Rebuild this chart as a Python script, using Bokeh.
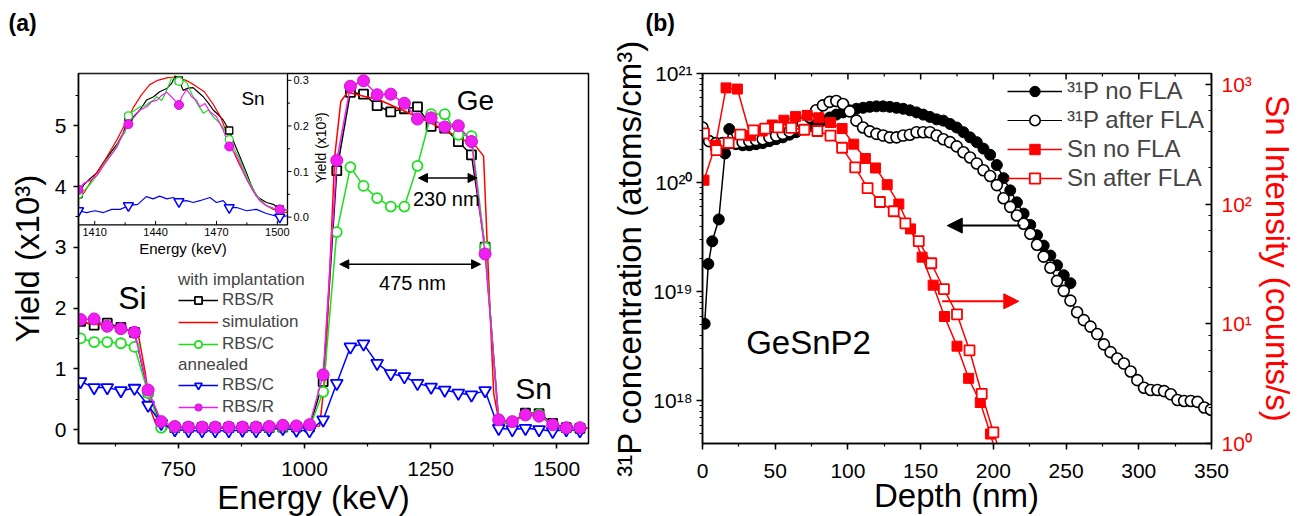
import math
from bokeh.plotting import figure
from bokeh.layouts import row
from bokeh.models import (Range1d, LogAxis, LogScale, SingleIntervalTicker, Label,
                          Legend, LegendItem, Arrow, NormalHead, CustomJSTickFormatter)
from bokeh.core.properties import value
from bokeh.embed import file_html
from bokeh.resources import INLINE

FONT = "Liberation Sans"

# ---------------- (a) RBS spectra (yield in units of 10^3) ----------------
energy = [556, 583, 609, 636, 663, 690, 716, 743, 770, 797, 823, 850, 877, 904, 930, 957,
          984, 1010, 1037, 1064, 1091, 1117, 1144, 1171, 1198, 1224, 1251, 1278, 1305, 1331,
          1358, 1385, 1412, 1438, 1465, 1492, 1519, 1546]
rbs_r_impl = [1.78, 1.72, 1.75, 1.68, 1.60, 0.62, 0.07, 0.03, 0.03, 0.03, 0.03, 0.03, 0.03, 0.03,
              0.03, 0.04, 0.04, 0.04, 0.79, 4.26, 5.55, 5.52, 5.33, 5.23, 5.28, 5.31, 4.99, 4.96,
              4.74, 4.52, 3.00, 0.12, 0.10, 0.27, 0.26, 0.10, 0.03, 0.02]
rbs_c_impl = [1.50, 1.44, 1.44, 1.42, 1.36, 0.60, 0.03, 0.02, 0.02, 0.02, 0.02, 0.02, 0.02, 0.02,
              0.02, 0.03, 0.03, 0.03, 0.62, 3.25, 4.32, 4.01, 3.81, 3.67, 3.67, 4.34, 5.19, 5.19,
              4.85, 4.83, 3.00, 0.12, 0.10, 0.25, 0.25, 0.08, 0.02, 0.02]
rbs_c_ann = [0.79, 0.69, 0.69, 0.64, 0.68, 0.40, 0.10, 0.00, -0.02, -0.02, -0.02, -0.02, -0.01,
             -0.02, 0.00, 0.02, -0.01, -0.02, 0.16, 0.76, 1.36, 1.41, 1.09, 0.92, 0.87, 0.76,
             0.70, 0.65, 0.60, 0.57, 0.64, 0.02, 0.00, 0.02, 0.00, -0.03, 0.00, -0.02]
rbs_r_ann = [1.81, 1.82, 1.70, 1.66, 1.60, 0.65, 0.13, 0.05, 0.04, 0.04, 0.04, 0.04, 0.04, 0.04,
             0.05, 0.07, 0.06, 0.08, 0.90, 4.43, 5.65, 5.74, 5.51, 5.52, 5.37, 5.11, 5.13, 4.98,
             5.00, 4.74, 2.89, 0.16, 0.13, 0.24, 0.22, 0.08, 0.03, 0.03]
sim_energy = [552, 600, 640, 660, 672, 684, 695, 705, 720, 800, 900, 1000, 1030, 1040, 1050, 1060,
              1072, 1085, 1150, 1250, 1340, 1355, 1365, 1375, 1385, 1400, 1420, 1445, 1465, 1485,
              1500, 1563]
sim_yield = [1.76, 1.72, 1.66, 1.62, 1.50, 0.95, 0.32, 0.10, 0.04, 0.03, 0.03, 0.04, 0.06, 0.80,
             2.60, 4.50, 5.40, 5.55, 5.42, 5.05, 4.66, 4.50, 2.50, 0.60, 0.15, 0.12, 0.18, 0.27,
             0.26, 0.10, 0.03, 0.02]

# inset: Sn signal, 1402-1505 keV
in_sim_e = [1402, 1405, 1409, 1413, 1417, 1421, 1425, 1429, 1433, 1437, 1441, 1446, 1450, 1455,
            1459, 1464, 1468, 1472, 1475, 1478, 1481, 1485, 1488, 1491, 1494, 1498, 1501, 1505]
in_sim_y = [0.040, 0.055, 0.085, 0.110, 0.140, 0.170, 0.205, 0.240, 0.268, 0.290, 0.300, 0.306,
            0.307, 0.300, 0.290, 0.275, 0.250, 0.220, 0.185, 0.148, 0.118, 0.083, 0.058, 0.039,
            0.027, 0.017, 0.013, 0.010]
in_r_impl_e = [1402, 1404.5, 1407.8, 1411, 1414.3, 1417.6, 1421, 1424, 1426.6, 1429, 1432.3,
               1435.6, 1439, 1442, 1445.5, 1448, 1449.6, 1451.5, 1453.6, 1456, 1458.5, 1461,
               1463.5, 1466, 1468.4, 1471, 1473.3, 1476.3, 1478, 1481.5, 1484.8, 1487.3, 1489.7,
               1492, 1494.6, 1498, 1501.2, 1505]
in_r_impl_y = [0.050, 0.070, 0.085, 0.097, 0.120, 0.140, 0.160, 0.184, 0.219, 0.220, 0.235,
               0.257, 0.264, 0.275, 0.282, 0.294, 0.310, 0.300, 0.278, 0.283, 0.284, 0.274,
               0.264, 0.250, 0.235, 0.224, 0.213, 0.190, 0.170, 0.133, 0.097, 0.068, 0.046,
               0.039, 0.032, 0.028, 0.017, 0.015]
in_c_impl_e = [1402, 1405.3, 1408.6, 1412, 1416, 1419.2, 1422.5, 1425, 1427.4, 1430, 1432.3,
               1434.8, 1436.4, 1439, 1440.6, 1443, 1445.5, 1448, 1451.5, 1453.6, 1455.3, 1457.8,
               1460.2, 1463.5, 1466, 1468.4, 1471.7, 1475, 1478.2, 1481.5, 1484.8, 1488, 1491.3,
               1494.6, 1499.5, 1505]
in_c_impl_y = [0.050, 0.060, 0.077, 0.097, 0.126, 0.143, 0.170, 0.187, 0.228, 0.235, 0.242,
               0.244, 0.250, 0.256, 0.264, 0.256, 0.278, 0.307, 0.298, 0.300, 0.296, 0.270,
               0.251, 0.228, 0.235, 0.220, 0.206, 0.184, 0.155, 0.126, 0.090, 0.061, 0.039,
               0.025, 0.016, 0.015]
in_c_ann_e = [1402, 1406, 1410, 1414.3, 1418.4, 1422.5, 1426.6, 1431.2, 1435.4, 1438.8, 1442,
              1445.5, 1448.8, 1451.5, 1455.3, 1458.5, 1461.8, 1466.8, 1470, 1473.3, 1476.3,
              1480, 1484.8, 1489.7, 1494.6, 1501.2, 1505]
in_c_ann_y = [0.014, 0.010, 0.014, 0.010, 0.017, 0.017, 0.025, 0.028, 0.045, 0.040, 0.046,
              0.040, 0.043, 0.034, 0.036, 0.032, 0.036, 0.043, 0.032, 0.036, 0.021, 0.021,
              0.014, 0.017, 0.008, 0.000, 0.003]
in_r_ann_e = [1402, 1404.5, 1407.8, 1411, 1414.3, 1417.6, 1421, 1424, 1426.6, 1429, 1432.3,
              1435.6, 1438, 1440.6, 1443, 1445.5, 1448, 1451.5, 1452.8, 1455.3, 1457.8, 1460.2,
              1461.8, 1464.3, 1466.8, 1470, 1473.3, 1476.3, 1479, 1481.5, 1484.8, 1488, 1491.3,
              1494.6, 1498, 1501.2, 1505]
in_r_ann_y = [0.060, 0.074, 0.081, 0.091, 0.113, 0.133, 0.154, 0.184, 0.204, 0.217, 0.235,
              0.242, 0.253, 0.256, 0.267, 0.274, 0.263, 0.246, 0.263, 0.280, 0.264, 0.256,
              0.242, 0.249, 0.231, 0.220, 0.191, 0.155, 0.141, 0.119, 0.083, 0.058, 0.036,
              0.025, 0.020, 0.017, 0.016]
in_mark_e = [1402, 1426.6, 1451.5, 1476.3, 1501.2]
in_mark_r_impl = [0.050, 0.219, 0.300, 0.190, 0.017]
in_mark_c_impl = [0.050, 0.222, 0.298, 0.170, 0.016]
in_mark_c_ann = [0.014, 0.025, 0.034, 0.021, 0.000]
in_mark_r_ann = [0.060, 0.204, 0.246, 0.155, 0.017]
in_xticks = [1410, 1440, 1470, 1500]
in_yticks = [0.0, 0.1, 0.2, 0.3]

# annotations of panel (a)
elem_text = ["Si", "Ge", "Sn"]
elem_e = [659, 1339, 1454]
elem_y = [2.16, 5.41, 0.68]
elem_size = ["32px", "28px", "30px"]
width_text = ["230 nm", "475 nm"]
width_e0 = [1226, 1070]
width_e1 = [1342, 1349]
width_y = [4.14, 2.72]
width_text_e = [1281, 1214]
width_text_y = [3.80, 2.41]

# ---------------- (b) SIMS depth profiles ----------------
p_no_depth = [1.5, 4, 6.7, 11.2, 15.5, 18.4, 23, 27.6, 32.2, 36.8, 41.4, 46, 50.6, 55.2, 59.8,
              64.4, 69, 73.6, 78.2, 82.8, 87.4, 92, 96.6, 101.2, 105.8, 110.4, 115, 119.6, 124.2,
              128.8, 133.4, 138, 142.6, 147.2, 151.8, 156.4, 161, 165.6, 170.2, 174.8, 179.4,
              184, 188.6, 193.2, 197.8, 202.4, 207, 211.6, 216.2, 220.8, 225.4, 230, 234.6,
              239.2, 243.8, 248.4, 253]
p_no_conc = [5.1e18, 1.8e19, 2.9e19, 4.6e19, 1.85e20, 3.1e20, 2.25e20, 2.2e20, 2.2e20, 2.25e20,
             2.3e20, 2.4e20, 2.5e20, 2.6e20, 2.75e20, 2.9e20, 3.1e20, 3.3e20, 3.5e20, 3.7e20,
             3.95e20, 4.2e20, 4.4e20, 4.6e20, 4.75e20, 4.85e20, 4.95e20, 5.0e20, 5.0e20, 4.95e20,
             4.85e20, 4.75e20, 4.6e20, 4.4e20, 4.2e20, 4.0e20, 3.8e20, 3.7e20, 3.45e20, 3.2e20,
             2.9e20, 2.6e20, 2.35e20, 2.05e20, 1.8e20, 1.45e20, 1.1e20, 8.5e19, 6.6e19, 5.2e19,
             4.1e19, 3.3e19, 2.65e19, 2.15e19, 1.75e19, 1.42e19, 1.2e19]
p_fla_depth = [0, 4.6, 9.2, 13.8, 18.4, 23, 27.6, 32.2, 36.8, 41.4, 46, 50.6, 55.2, 59.8, 64.4,
               69, 73.6, 78.2, 82.8, 87.4, 92, 96.6, 101.2, 105.8, 110.4, 115, 119.6, 124.2,
               128.8, 133.4, 138, 142.6, 147.2, 151.8, 156.4, 161, 165.6, 170.2, 174.8, 179.4,
               184, 188.6, 193.2, 197.8, 202.4, 207, 211.6, 216.2, 220.8, 225.4, 230, 234.6,
               239.2, 243.8, 248.4, 253, 257.6, 262.2, 266.8, 271.4, 276, 280.6, 285.2, 289.8,
               294.4, 299, 303.6, 308.2, 312.8, 317.4, 322, 326.6, 331.2, 335.8, 340.4, 345, 349.6]
p_fla_conc = [3.2e20, 2.4e20, 2.3e20, 2.3e20, 2.3e20, 2.3e20, 2.35e20, 2.4e20, 2.45e20, 2.5e20,
              2.6e20, 2.7e20, 2.8e20, 2.95e20, 3.2e20, 3.5e20, 4.0e20, 4.6e20, 5.1e20, 5.5e20,
              5.6e20, 5.25e20, 4.5e20, 3.7e20, 3.2e20, 2.95e20, 2.8e20, 2.7e20, 2.6e20, 2.6e20,
              2.7e20, 2.75e20, 2.9e20, 2.9e20, 2.9e20, 2.7e20, 2.5e20, 2.35e20, 2.15e20, 1.9e20,
              1.7e20, 1.5e20, 1.3e20, 1.15e20, 9.5e19, 7.2e19, 6.0e19, 5.0e19, 4.2e19, 3.4e19,
              2.7e19, 2.1e19, 1.66e19, 1.26e19, 1.02e19, 8.3e18, 6.5e18, 5.5e18, 4.8e18, 4.1e18,
              3.3e18, 2.8e18, 2.45e18, 2.2e18, 1.86e18, 1.55e18, 1.32e18, 1.26e18, 1.26e18,
              1.23e18, 1.15e18, 1.02e18, 1.0e18, 1.0e18, 9.8e17, 8.7e17, 8.3e17]
sn_no_depth = [1, 8.9, 16.2, 24, 33, 41, 48, 56, 64, 72, 80, 88, 96, 104, 112, 119, 127, 135,
               143, 151, 158.6, 166.4, 175, 183, 191, 198, 205]
sn_no_int = [158, 309, 933, 912, 372, 407, 457, 501, 537, 550, 525, 479, 427, 316, 240, 200, 145,
             100, 62, 36, 21, 11.5, 6.5, 3.5, 2.2, 1.2, 0.6]
sn_fla_depth = [1, 9.5, 18, 26, 35, 43, 52, 61, 70, 79, 88, 96, 105, 113.5, 122, 131.5, 139.5,
                148.7, 157.3, 166, 175, 183.6, 192, 200, 206]
sn_fla_int = [389, 282, 324, 380, 412, 427, 437, 432, 417, 407, 372, 295, 202, 136, 104, 87, 69,
              49, 32, 19.5, 12, 6.0, 2.6, 1.24, 0.75]
depth_ticks = [0, 50, 100, 150, 200, 250, 300, 350]


def style_axis(ax, t_in=0, t_out=5, m_in=0, m_out=3):
    ax.axis_line_width = 1.5
    ax.major_tick_line_width = 1.5
    ax.minor_tick_line_width = 1.2
    ax.major_tick_in = t_in
    ax.major_tick_out = t_out
    ax.minor_tick_in = m_in
    ax.minor_tick_out = m_out
    ax.major_label_text_font = FONT
    ax.major_label_text_font_size = "21px"
    ax.major_label_text_color = "black"
    ax.axis_label_text_font = FONT
    ax.axis_label_text_font_size = "33px"
    ax.axis_label_text_font_style = "normal"
    ax.axis_label_text_color = "black"


def canvas_label(p, x, y, text, size, style="normal", align="left", color="black"):
    # placed in the top border panel so that it is not clipped to the frame
    p.add_layout(Label(x=x, y=y, x_units="canvas", y_units="canvas", text=text,
                       text_font=FONT, text_font_size=size, text_font_style=style,
                       text_align=align, text_baseline="middle", text_color=color),
                 "above")


# ====================== panel (a) ======================
A_W, A_H = 600, 516
A_L, A_R, A_T, A_B = 78, 12, 73, 69
pa = figure(width=A_W, height=A_H, x_range=Range1d(552, 1563), y_range=Range1d(-0.23, 5.86),
            output_backend="svg", toolbar_location=None,
            min_border_left=A_L, min_border_right=A_R, min_border_top=A_T, min_border_bottom=A_B)
pa.xgrid.visible = False
pa.ygrid.visible = False
pa.outline_line_color = "black"
pa.outline_line_width = 1.5
pa.xaxis.ticker = SingleIntervalTicker(interval=250, num_minor_ticks=2)
pa.yaxis.ticker = SingleIntervalTicker(interval=1, num_minor_ticks=2)
pa.yaxis.axis_label = "Yield (x10\u00b3)"
style_axis(pa.xaxis[0])
style_axis(pa.yaxis[0])
pa.xaxis.major_label_standoff = 13
pa.yaxis.major_label_standoff = 7
pa.yaxis.axis_label_standoff = 6
canvas_label(pa, 8, 22, "(a)", "23px", style="bold")
canvas_label(pa, 313, 497, "Energy (keV)", "33px", align="center")

BLACK, RED, GREEN, BLUE, MAG = "black", "#ff0000", "#19e019", "#0000ff", "#f01ef0"

l_ri = pa.line(energy, rbs_r_impl, line_color=BLACK, line_width=1.5)
s_ri = pa.scatter(energy, rbs_r_impl, marker="square", size=9, fill_color="white",
                  line_color=BLACK, line_width=1.8)
l_sim = pa.line(sim_energy, sim_yield, line_color=RED, line_width=1.5)
l_ci = pa.line(energy, rbs_c_impl, line_color=GREEN, line_width=1.5)
s_ci = pa.scatter(energy, rbs_c_impl, marker="circle", size=10, fill_color="white",
                  line_color=GREEN, line_width=1.8)
l_ca = pa.line(energy, rbs_c_ann, line_color=BLUE, line_width=1.5)
s_ca = pa.scatter(energy, rbs_c_ann, marker="inverted_triangle", size=12, fill_color="white",
                  line_color=BLUE, line_width=1.8)
l_ra = pa.line(energy, rbs_r_ann, line_color=MAG, line_width=1.5)
s_ra = pa.scatter(energy, rbs_r_ann, marker="circle", size=12, fill_color=MAG,
                  line_color="#d010d0", line_width=1)

for t, e, yv, sz in zip(elem_text, elem_e, elem_y, elem_size):
    pa.text(x=[e], y=[yv], text=[t], text_font=value(FONT), text_font_size=value(sz),
            text_align="center", text_baseline="middle", text_color="black")
pa.text(x=width_text_e, y=width_text_y, text=width_text, text_font=value(FONT),
        text_font_size=value("20px"), text_align="center", text_baseline="middle",
        text_color="black")
for e0, e1, yy in zip(width_e0, width_e1, width_y):
    pa.add_layout(Arrow(start=NormalHead(size=9, fill_color="black", line_color="black"),
                        end=NormalHead(size=9, fill_color="black", line_color="black"),
                        x_start=e0, y_start=yy, x_end=e1, y_end=yy, line_width=1.5,
                        line_color="black"))

leg_kw = dict(padding=0, margin=0, border_line_alpha=0, background_fill_alpha=0,
              label_text_font=FONT, label_text_font_size="17px", label_height=18,
              glyph_height=18, glyph_width=40, label_standoff=4, spacing=2,
              title_text_font=FONT, title_text_font_size="17px",
              title_text_font_style="normal", title_standoff=0)
leg_a1 = Legend(items=[LegendItem(label="RBS/R", renderers=[l_ri, s_ri]),
                       LegendItem(label="simulation", renderers=[l_sim]),
                       LegendItem(label="RBS/C", renderers=[l_ci, s_ci])],
                title="with implantation", location=(100, 89), **leg_kw)
leg_a2 = Legend(items=[LegendItem(label="RBS/C", renderers=[l_ca, s_ca]),
                       LegendItem(label="RBS/R", renderers=[l_ra, s_ra])],
                title="annealed", location=(100, 26), **leg_kw)
pa.add_layout(leg_a1, "center")
pa.add_layout(leg_a2, "center")

# ---- inset drawn in its own coordinate system within the upper-left corner ----
IN_X0, IN_X1 = 1402, 1505
IN_Y0, IN_Y1 = -0.017, 0.315
IN_WPX, IN_HPX = 209, 153
FRAME_W = A_W - A_L - A_R
FRAME_H = A_H - A_T - A_B
pa.extra_x_ranges = {"inx": Range1d(IN_X0, IN_X0 + (IN_X1 - IN_X0) * FRAME_W / IN_WPX)}
pa.extra_y_ranges = {"iny": Range1d(IN_Y1 - (IN_Y1 - IN_Y0) * FRAME_H / IN_HPX, IN_Y1)}
ix_per_px = (IN_X1 - IN_X0) / IN_WPX
iy_per_px = (IN_Y1 - IN_Y0) / IN_HPX
ik = dict(x_range_name="inx", y_range_name="iny")

pa.quad(left=[IN_X0], right=[IN_X1], bottom=[IN_Y0], top=[IN_Y1], fill_color="white",
        line_color="black", line_width=1.3, **ik)
pa.line(in_r_impl_e, in_r_impl_y, line_color=BLACK, line_width=1.2, **ik)
pa.line(in_sim_e, in_sim_y, line_color=RED, line_width=1.2, **ik)
pa.line(in_c_impl_e, in_c_impl_y, line_color=GREEN, line_width=1.2, **ik)
pa.line(in_c_ann_e, in_c_ann_y, line_color=BLUE, line_width=1.2, **ik)
pa.line(in_r_ann_e, in_r_ann_y, line_color=MAG, line_width=1.2, **ik)
pa.scatter(in_mark_e, in_mark_r_impl, marker="square", size=7, fill_color="white",
           line_color=BLACK, line_width=1.3, **ik)
pa.scatter(in_mark_e, in_mark_c_impl, marker="circle", size=8, fill_color="white",
           line_color=GREEN, line_width=1.3, **ik)
pa.scatter(in_mark_e, in_mark_c_ann, marker="inverted_triangle", size=10, fill_color="white",
           line_color=BLUE, line_width=1.5, **ik)
pa.scatter(in_mark_e, in_mark_r_ann, marker="circle", size=9, fill_color=MAG,
           line_color="#d010d0", line_width=1, **ik)

# inset ticks: bottom (inward), right (outward)
minor_x = [t + 15 for t in in_xticks[:-1]]
pa.segment(x0=in_xticks, y0=[IN_Y0] * 4, x1=in_xticks, y1=[IN_Y0 + 4 * iy_per_px] * 4,
           line_color="black", line_width=1, **ik)
pa.segment(x0=minor_x, y0=[IN_Y0] * 3, x1=minor_x, y1=[IN_Y0 + 2.5 * iy_per_px] * 3,
           line_color="black", line_width=1, **ik)
minor_y = [t + 0.05 for t in in_yticks[:-1]]
pa.segment(x0=[IN_X1] * 4, y0=in_yticks, x1=[IN_X1 + 4 * ix_per_px] * 4, y1=in_yticks,
           line_color="black", line_width=1, **ik)
pa.segment(x0=[IN_X1] * 3, y0=minor_y, x1=[IN_X1 + 2.5 * ix_per_px] * 3, y1=minor_y,
           line_color="black", line_width=1, **ik)
pa.text(x=in_xticks, y=[IN_Y0] * 4, text=[str(t) for t in in_xticks], y_offset=3,
        text_font=value(FONT), text_font_size=value("11px"), text_align="center",
        text_baseline="top", text_color="black", **ik)
pa.text(x=[IN_X1] * 4, y=in_yticks, text=["%.1f" % t for t in in_yticks], x_offset=6,
        text_font=value(FONT), text_font_size=value("11px"), text_align="left",
        text_baseline="middle", text_color="black", **ik)
pa.text(x=[(IN_X0 + IN_X1) / 2], y=[IN_Y0], text=["Energy (keV)"], y_offset=15,
        text_font=value(FONT), text_font_size=value("15px"), text_align="center",
        text_baseline="top", text_color="black", **ik)
pa.text(x=[IN_X1], y=[0.152], text=["Yield (x10\u00b3)"], x_offset=33, angle=math.pi / 2,
        text_font=value(FONT), text_font_size=value("14px"), text_align="center",
        text_baseline="middle", text_color="black", **ik)
pa.text(x=[1488], y=[0.26], text=["Sn"], text_font=value(FONT), text_font_size=value("19px"),
        text_align="center", text_baseline="middle", text_color="black", **ik)

# ====================== panel (b) ======================
B_W, B_H = 702, 516
B_T, B_B = 69, 73
C_LO, C_HI = 10 ** 17.61, 1e21
pb = figure(width=B_W, height=B_H, x_range=Range1d(0, 350),
            y_range=Range1d(C_LO, C_HI), y_axis_type="log",
            output_backend="svg", toolbar_location=None,
            min_border_left=102, min_border_right=91, min_border_top=B_T, min_border_bottom=B_B)
pb.xgrid.visible = False
pb.ygrid.visible = False
pb.outline_line_color = "black"
pb.outline_line_width = 1.5
canvas_label(pb, 45, 22, "(b)", "23px", style="bold")
canvas_label(pb, 356, 495, "Depth (nm)", "33px", align="center")

sup_fmt = CustomJSTickFormatter(code="""
const sup = {"0": "\u2070", "1": "\u00b9", "2": "\u00b2", "3": "\u00b3", "4": "\u2074",
             "5": "\u2075", "6": "\u2076", "7": "\u2077", "8": "\u2078", "9": "\u2079",
             "-": "\u207b"};
const e = Math.round(Math.log10(tick));
return "10" + String(e).split("").map(c => sup[c]).join("");
""")

pb.xaxis.ticker = SingleIntervalTicker(interval=50, num_minor_ticks=2)
style_axis(pb.xaxis[0], t_out=6)
pb.xaxis.major_label_standoff = 14
left_ax = pb.left[0]
left_ax.formatter = sup_fmt
left_ax.axis_label = "\u00b3\u00b9P concentration (atoms/cm\u00b3)"
style_axis(left_ax, t_out=6, m_out=3)
left_ax.major_label_standoff = 4
left_ax.axis_label_standoff = 2

pb.extra_y_ranges = {"sn": Range1d(1, 10 ** 3.09)}
pb.extra_y_scales = {"sn": LogScale()}
right_ax = LogAxis(y_range_name="sn", formatter=sup_fmt, axis_label="Sn Intensity (counts/s)")
style_axis(right_ax, t_in=6, t_out=0, m_in=3, m_out=0)
right_ax.major_label_text_color = RED
right_ax.axis_label_text_color = RED
right_ax.major_label_standoff = 10
right_ax.axis_label_standoff = 4
pb.add_layout(right_ax, "right")

# inward ticks along the top edge of panel (b)
dec_per_px = (math.log10(C_HI) - math.log10(C_LO)) / (B_H - B_T - B_B)
minor_depth = [t + 25 for t in depth_ticks[:-1]]
pb.segment(x0=depth_ticks, y0=[C_HI] * len(depth_ticks), x1=depth_ticks,
           y1=[C_HI / 10 ** (6 * dec_per_px)] * len(depth_ticks),
           line_color="black", line_width=1.5)
pb.segment(x0=minor_depth, y0=[C_HI] * len(minor_depth), x1=minor_depth,
           y1=[C_HI / 10 ** (3 * dec_per_px)] * len(minor_depth),
           line_color="black", line_width=1.2)

snk = dict(y_range_name="sn")
b1l = pb.line(p_no_depth, p_no_conc, line_color="black", line_width=1.5)
b1s = pb.scatter(p_no_depth, p_no_conc, marker="circle", size=11, fill_color="black",
                 line_color="black")
b2l = pb.line(p_fla_depth, p_fla_conc, line_color="black", line_width=1.2)
b2s = pb.scatter(p_fla_depth, p_fla_conc, marker="circle", size=11, fill_color="white",
                 line_color="black", line_width=1.6)
b3l = pb.line(sn_no_depth, sn_no_int, line_color=RED, line_width=1.5, **snk)
b3s = pb.scatter(sn_no_depth, sn_no_int, marker="square", size=10, fill_color=RED,
                 line_color=RED, **snk)
b4l = pb.line(sn_fla_depth, sn_fla_int, line_color=RED, line_width=1.5, **snk)
b4s = pb.scatter(sn_fla_depth, sn_fla_int, marker="square", size=10, fill_color="white",
                 line_color=RED, line_width=1.8, **snk)

pb.add_layout(Arrow(end=NormalHead(size=15, fill_color="black", line_color="black"),
                    x_start=218.7, y_start=4.04e19, x_end=168.3, y_end=4.04e19,
                    line_width=2, line_color="black"))
pb.add_layout(Arrow(end=NormalHead(size=15, fill_color=RED, line_color=RED),
                    x_start=164.8, y_start=15.4, x_end=217.5, y_end=15.4,
                    line_width=2, line_color=RED, y_range_name="sn"))
pb.text(x=[72.9], y=[3.4e18], text=["GeSnP2"], text_font=value(FONT),
        text_font_size=value("33px"), text_align="center", text_baseline="middle",
        text_color="black")

leg_b = Legend(items=[LegendItem(label="\u00b3\u00b9P no FLA", renderers=[b1l, b1s]),
                      LegendItem(label="\u00b3\u00b9P after FLA", renderers=[b2l, b2s]),
                      LegendItem(label="Sn no FLA", renderers=[b3l, b3s]),
                      LegendItem(label="Sn after FLA", renderers=[b4l, b4s])],
               location=(305, 251), padding=0, margin=0, border_line_alpha=0,
               background_fill_alpha=0, label_text_font=FONT, label_text_font_size="24px",
               label_height=26, glyph_height=26, glyph_width=55, label_standoff=5, spacing=1)
pb.add_layout(leg_b, "center")

layout = row(pa, pb)
open("out.html", "w").write(file_html(layout, INLINE))
